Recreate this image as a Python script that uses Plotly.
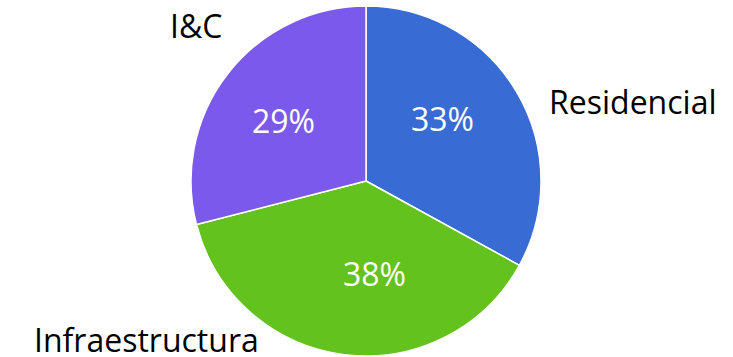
import plotly.graph_objects as go

# data
labels = ['Residencial', 'Infraestructura', 'I&C']
values = [33, 38, 29]
colors = ['#386BD4', '#64C21E', '#7B5AEB']

W, H = 733, 357
# text positions in pixels (center of text)
label_px = {'Residencial': (632, 101), 'Infraestructura': (146, 339), 'I&C': (196, 26)}
pct_px = {'Residencial': (442, 119), 'Infraestructura': (374, 273), 'I&C': (283, 120)}

cx, cy, r = 366, 181, 175

fig = go.Figure()
fig.add_trace(go.Pie(
    labels=labels, values=values,
    sort=False, direction='clockwise', rotation=0,
    marker=dict(colors=colors, line=dict(color='white', width=1.5)),
    textinfo='none',
    domain=dict(x=[(cx - r) / W, (cx + r) / W], y=[(H - cy - r) / H, (H - cy + r) / H]),
    showlegend=False, hoverinfo='label+percent',
))

total = sum(values)
for name, v in zip(labels, values):
    x, y = label_px[name]
    fig.add_annotation(x=x / W, y=1 - y / H, xref='paper', yref='paper', text=name,
                       showarrow=False, xanchor='center', yanchor='middle',
                       font=dict(size=32, color='black', family='Open Sans'))
    x, y = pct_px[name]
    fig.add_annotation(x=x / W, y=1 - y / H, xref='paper', yref='paper',
                       text='%d%%' % round(100 * v / total),
                       showarrow=False, xanchor='center', yanchor='middle',
                       font=dict(size=32, color='white', family='Open Sans'))

fig.update_layout(
    width=W, height=H,
    margin=dict(l=0, r=0, t=0, b=0),
    paper_bgcolor='white', plot_bgcolor='white',
)
fig.write_html("out.html", config={'displayModeBar': False},
               post_script="document.body.style.margin='0';")
